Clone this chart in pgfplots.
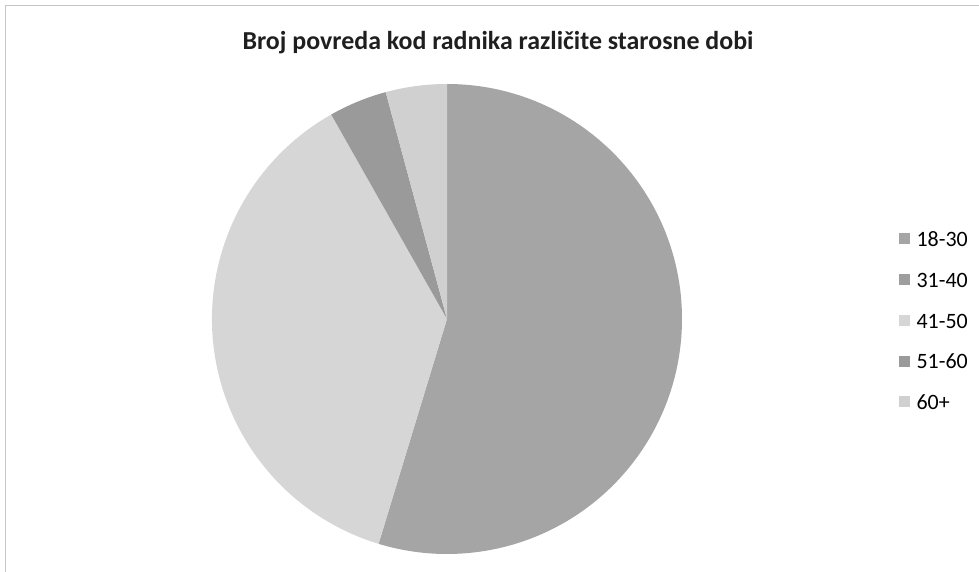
\documentclass[border=0pt]{standalone}
\usepackage{pgfplots}
\pgfplotsset{compat=1.18}
\usepackage{pgfplotstable}
\usepackage{fontspec}
\setmainfont{Carlito}

\definecolor{cA}{HTML}{A5A5A5}
\definecolor{cB}{HTML}{9E9E9E}
\definecolor{cC}{HTML}{D6D6D6}
\definecolor{cD}{HTML}{9A9A9A}
\definecolor{cE}{HTML}{D0D0D0}

% share of injuries (percent), clockwise from 12 o'clock
\pgfplotstableread{
label value col
18-30 54.7 cA
31-40 0.0 cB
41-50 37.1 cC
51-60 4.0 cD
60+ 4.2 cE
}\piedata

\begin{document}
\begin{tikzpicture}
\path[use as bounding box] (0,0) rectangle (979bp,572bp);
\begin{axis}[
  hide axis, scale only axis, x=1bp, y=1bp,
  xmin=0, xmax=979, ymin=0, ymax=572, clip=false,
  legend style={draw=none, fill=none, inner sep=0pt, at={(axis cs:899,252)}, anchor=west,
    font=\fontsize{22}{26}\selectfont, row sep=24.7bp,
    nodes={inner sep=0pt, text height=16bp, text depth=0bp},
    /tikz/every odd column/.append style={column sep=7bp}},
  legend cell align=left,
]
\draw[gray!45, line width=0.8bp] (axis cs:5,0) -- (axis cs:5,567) -- (axis cs:979,567);
\def\cum{0}
\pgfplotsforeachungrouped \i in {0,...,4}{%
  \pgfplotstablegetelem{\i}{value}\of\piedata \let\val\pgfplotsretval
  \pgfplotstablegetelem{\i}{col}\of\piedata \let\col\pgfplotsretval
  \pgfmathsetmacro{\aA}{90-3.6*\cum}%
  \pgfmathsetmacro{\aB}{90-3.6*(\cum+\val)}%
  \edef\temp{\noexpand\fill[\col] (axis cs:447,253) -- ++(\aA:235bp) arc[start angle=\aA, end angle=\aB, radius=235bp] -- cycle;}%
  \temp
  \pgfmathsetmacro{\cum}{\cum+\val}%
}
\addlegendimage{legend image code/.code={\fill[cA] (0bp,-5bp) rectangle (10bp,5bp);}}
\addlegendimage{legend image code/.code={\fill[cB] (0bp,-5bp) rectangle (10bp,5bp);}}
\addlegendimage{legend image code/.code={\fill[cC] (0bp,-5bp) rectangle (10bp,5bp);}}
\addlegendimage{legend image code/.code={\fill[cD] (0bp,-5bp) rectangle (10bp,5bp);}}
\addlegendimage{legend image code/.code={\fill[cE] (0bp,-5bp) rectangle (10bp,5bp);}}
\legend{18-30,31-40,41-50,51-60,60+}
\node[font=\bfseries\fontsize{26}{30}\selectfont, anchor=base, text=black!88] at (axis cs:498,522) {Broj povreda kod radnika različite starosne dobi};
\end{axis}
\end{tikzpicture}
\end{document}
